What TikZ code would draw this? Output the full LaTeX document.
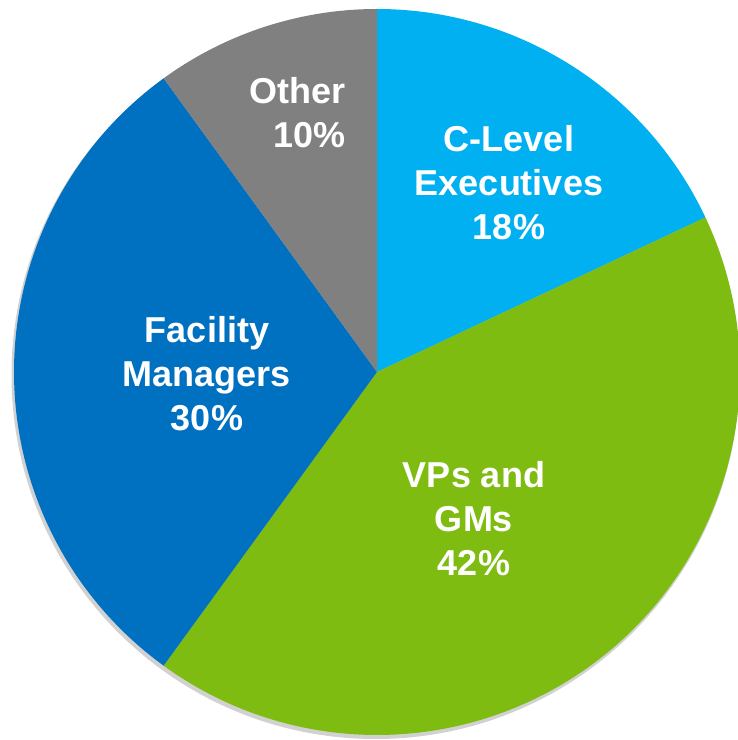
\documentclass[tikz,border=0pt]{standalone}
\usepackage{fontspec}
\setmainfont{Liberation Sans}
\usepackage{xcolor}
\usetikzlibrary{
positioning,
backgrounds
}
\definecolor{clevel}{HTML}{00B0F0}
\definecolor{vpgm}{HTML}{7FBC12}
\definecolor{facmgr}{HTML}{0070C0}
\definecolor{other}{HTML}{808080}

\begin{document}
\begin{tikzpicture}[
    x=1pt, y=1pt,
    slice/.style={draw=none},
    shade/.style={fill=black, opacity=0.18},
    lbl/.style={text=white, inner sep=0pt, align=center,
      font=\bfseries\fontsize{36}{44}\selectfont}]
  \useasboundingbox (0,0) rectangle (738,740);
  \clip (0,0) rectangle (738,740);
  \coordinate (c) at (377,368);
  \fill[shade] ([xshift=-1.5pt,yshift=-3pt]c) circle[radius=364];
  \foreach \a/\b/\col in {90/25.2/clevel, 25.2/-126/vpgm, -126/-234/facmgr, -234/-270/other}
    \fill[slice, \col] (c) -- ++(\a:363) arc[start angle=\a, end angle=\b, radius=363] -- cycle;
  \node[lbl] (exec) at (509,557) {C-Level\\Executives\\18\%};
  \node[lbl] (vps) at (474,221.5) {VPs and\\GMs\\42\%};
  \node[lbl] (fac) at (207,366) {Facility\\Managers\\30\%};
  \node[lbl, align=right, anchor=east] (oth) at (346,627.5) {Other\\10\%};
\end{tikzpicture}
\end{document}
